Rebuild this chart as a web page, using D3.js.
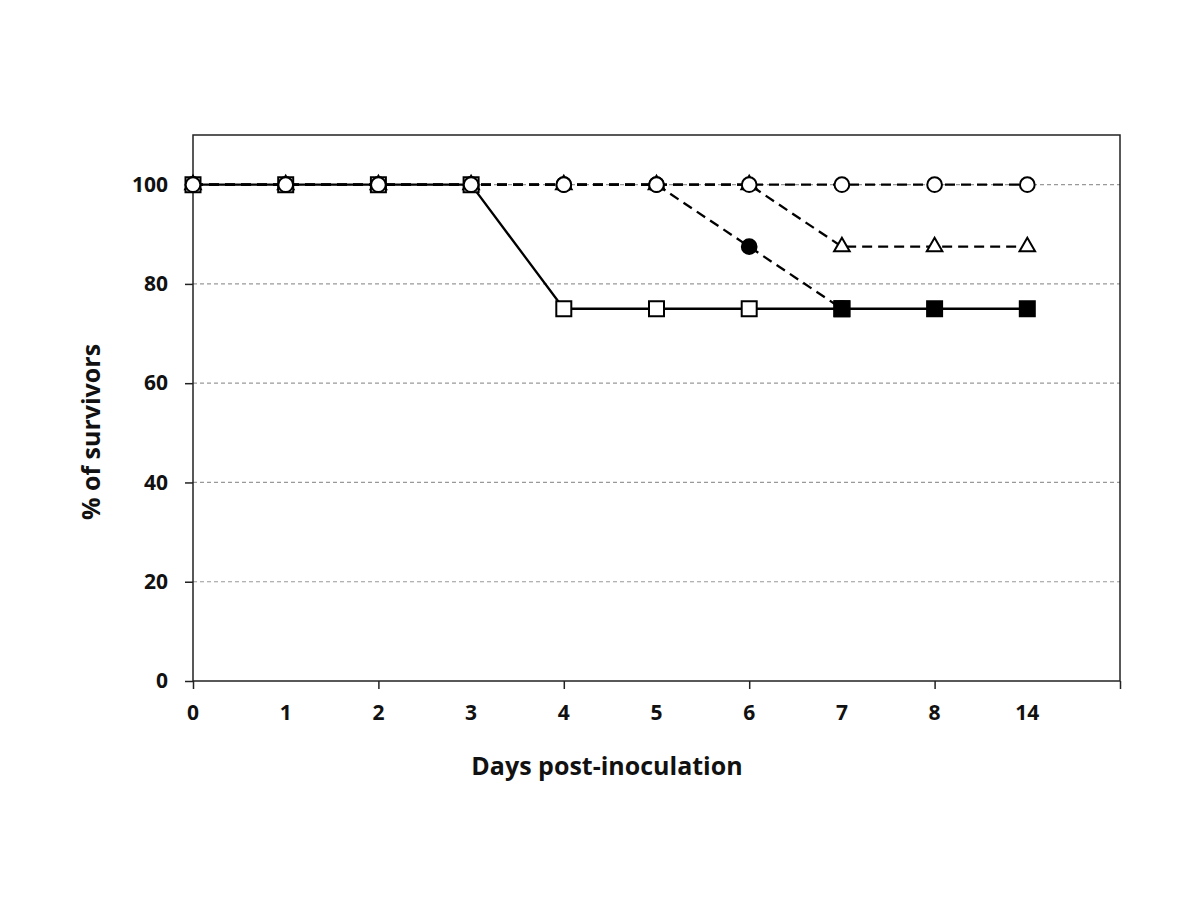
<!DOCTYPE html>
<html>
<head>
<meta charset="utf-8">
<script src="https://cdn.jsdelivr.net/npm/d3@7"></script>
<style>
  body { margin: 0; background: #fff; }
  text { font-family: 'Open Sans', Lato, sans-serif; font-weight: bold; fill: #111; }
</style>
</head>
<body>
<div class="container"></div>
<script>
// data ////////////////////////////////////////////////////////
var days = ['0', '1', '2', '3', '4', '5', '6', '7', '8', '14']
var yTicks = [0, 20, 40, 60, 80, 100]

var openCircle   = [100, 100, 100, 100, 100, 100, 100, 100, 100, 100]
var openTriangle = [100, 100, 100, 100, 100, 100, 100, 87.5, 87.5, 87.5]
var filledCircle = [100, 100, 100, 100, 100, 100, 87.5, 75, null, null]
var openSquare   = [100, 100, 100, 100, 75, 75, 75, 75, null, null]
var filledSquare = [null, null, null, null, null, null, null, 75, 75, 75]
////////////////////////////////////////////////////////////////

var w = 1200, h = 900
var pLeft = 193, pRight = 1120, pTop = 135, pBottom = 681

var svg = d3.select('.container')
    .append('svg')
    .attr('width', w)
    .attr('height', h)

svg.append('rect')
    .attr('width', '100%')
    .attr('height', '100%')
    .style('fill', '#fff')

var x = d3.scaleLinear().domain([0, 10]).range([pLeft, pRight])
var y = d3.scaleLinear().domain([0, 110]).range([pBottom, pTop])

// gridlines
svg.append('g')
    .selectAll('line')
    .data(yTicks.filter(d => d > 0))
    .enter()
    .append('line')
    .attr('x1', pLeft)
    .attr('x2', pRight)
    .attr('y1', d => y(d))
    .attr('y2', d => y(d))
    .style('stroke', '#999')
    .style('stroke-width', 1.2)
    .style('stroke-dasharray', '4,3')

// frame
svg.append('rect')
    .attr('x', pLeft)
    .attr('y', pTop)
    .attr('width', pRight - pLeft)
    .attr('height', pBottom - pTop)
    .style('fill', 'none')
    .style('stroke', '#222')
    .style('stroke-width', 1.5)

// y axis
var yAxis = d3.axisLeft(y).tickValues(yTicks).tickSize(8).tickSizeOuter(0)
var gy = svg.append('g')
    .attr('transform', 'translate(' + pLeft + ',0)')
    .call(yAxis)
gy.select('.domain').remove()
gy.selectAll('line').style('stroke', '#222').style('stroke-width', 1.5)
gy.selectAll('text')
    .attr('x', -25)
    .style('font-size', '21px')
    .style('font-family', "'Open Sans', sans-serif")
    .style('font-weight', 'bold')
    .style('fill', '#111')

// x axis (ticks every 2 slots, labels on every slot)
var xAxis = d3.axisBottom(x).tickValues([0, 2, 4, 6, 8, 10]).tickSize(8).tickFormat('')
var gx = svg.append('g')
    .attr('transform', 'translate(0,' + pBottom + ')')
    .call(xAxis)
gx.select('.domain').remove()
gx.selectAll('line').style('stroke', '#222').style('stroke-width', 1.5)

svg.append('g')
    .selectAll('text')
    .data(days)
    .enter()
    .append('text')
    .attr('x', (d, i) => x(i))
    .attr('y', pBottom + 39)
    .attr('text-anchor', 'middle')
    .style('font-size', '21px')
    .text(d => d)

// titles
svg.append('text')
    .attr('x', 607)
    .attr('y', 775)
    .attr('text-anchor', 'middle')
    .style('font-size', '25px')
    .text('Days post-inoculation')

svg.append('text')
    .attr('transform', 'translate(100,432) rotate(-90)')
    .attr('text-anchor', 'middle')
    .style('font-size', '25px')
    .text('% of survivors')

// series
var line = d3.line()
    .defined(d => d != null)
    .x((d, i) => x(i))
    .y(d => y(d))

function drawSeries(values, dash, marker) {
    var g = svg.append('g')
    g.append('path')
        .attr('d', line(values))
        .style('fill', 'none')
        .style('stroke', '#000')
        .style('stroke-width', 2.3)
        .style('stroke-dasharray', dash)

    var pts = values.map((v, i) => ({ i: i, v: v })).filter(d => d.v != null)
    g.selectAll('path.m')
        .data(pts)
        .enter()
        .append('path')
        .attr('class', 'm')
        .attr('transform', d => 'translate(' + x(d.i) + ',' + y(d.v) + ')')
        .attr('d', d3.symbol().type(marker.type).size(marker.size))
        .style('fill', marker.fill)
        .style('stroke', '#000')
        .style('stroke-width', 2)
}

drawSeries(filledCircle, '10,6', { type: d3.symbolCircle, size: 170, fill: '#000' })
drawSeries(openTriangle, '10,6', { type: d3.symbolTriangle, size: 105, fill: '#fff' })
drawSeries(openSquare, null, { type: d3.symbolSquare, size: 225, fill: '#fff' })
drawSeries(filledSquare, null, { type: d3.symbolSquare, size: 225, fill: '#000' })
drawSeries(openCircle, '10,6', { type: d3.symbolCircle, size: 170, fill: '#fff' })
</script>
</body>
</html>
